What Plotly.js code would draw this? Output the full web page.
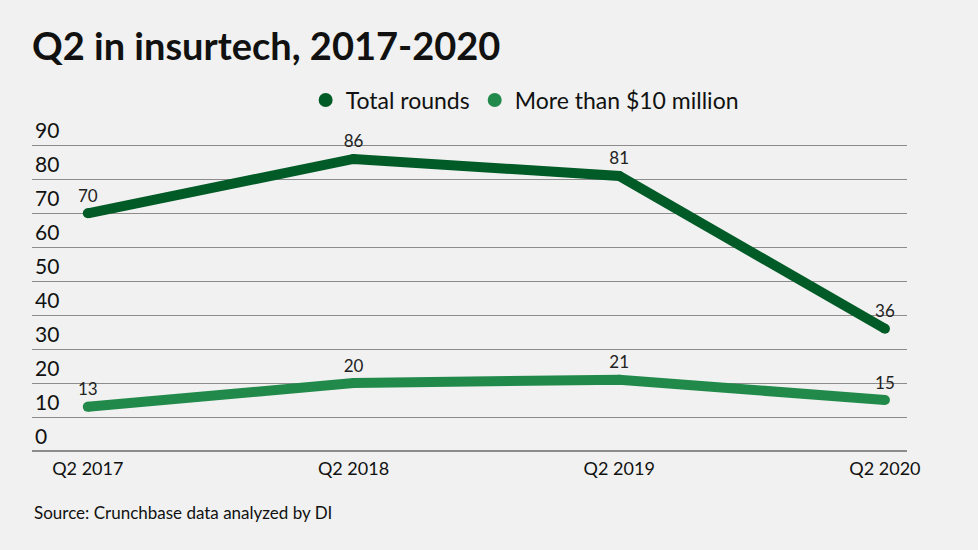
<!DOCTYPE html>
<html>
<head>
<meta charset="utf-8">
<script src="https://cdn.plot.ly/plotly-3.0.1.min.js"></script>
<style>
html,body{margin:0;padding:0;background:#f0f1f0;}
#chart{width:978px;height:550px;}
</style>
</head>
<body>
<div id="chart"></div>
<script>
const quarters = ["Q2 2017", "Q2 2018", "Q2 2019", "Q2 2020"];
const totalRounds = [70, 86, 81, 36];
const moreThan10M = [13, 20, 21, 15];
const seriesNames = ["Total rounds", "More than $10 million"];
const seriesColors = ["#005b27", "#218a4b"];
const yTicks = [0, 10, 20, 30, 40, 50, 60, 70, 80, 90];

const font = "Lato, 'Noto Sans', sans-serif";
const allSeries = [totalRounds, moreThan10M];
const traces = [];
allSeries.forEach((vals, i) => {
  traces.push({
    type: "scatter",
    mode: "lines+markers+text",
    x: quarters,
    y: vals,
    text: vals.map(String),
    textposition: "top center",
    textfont: {family: font, size: 17, color: "#222"},
    line: {color: seriesColors[i], width: 10},
    marker: {size: 10, color: seriesColors[i], line: {width: 0}},
    showlegend: false,
    hoverinfo: "x+y",
    cliponaxis: false
  });
});
allSeries.forEach((vals, i) => {
  traces.push({
    type: "scatter",
    mode: "markers",
    x: [null],
    y: [null],
    name: seriesNames[i],
    marker: {color: seriesColors[i], size: 14},
    showlegend: true
  });
});

const layout = {
  width: 978,
  height: 550,
  paper_bgcolor: "#f0f1f0",
  plot_bgcolor: "#f0f1f0",
  margin: {l: 32, r: 71, t: 121, b: 99},
  title: {
    text: "<b>Q2 in insurtech, 2017-2020</b>",
    font: {family: font, size: 38, color: "#111"},
    x: 0, xref: "paper", xanchor: "left",
    y: 1, yref: "container", yanchor: "top",
    pad: {t: 33, l: 0}
  },
  showlegend: true,
  legend: {
    orientation: "h",
    x: 0.563, xanchor: "center",
    yref: "container",
    y: 0.818, yanchor: "middle",
    font: {family: font, size: 23, color: "#111"},
    bgcolor: "rgba(0,0,0,0)",
    itemwidth: 30,
    traceorder: "normal"
  },
  xaxis: {
    type: "category",
    range: [-0.21, 3.083],
    showgrid: false,
    zeroline: false,
    showline: false,
    ticks: "",
    ticklabelstandoff: 5,
    tickfont: {family: font, size: 18, color: "#111"},
    fixedrange: true
  },
  yaxis: {
    range: [0, 97],
    tickvals: yTicks,
    ticktext: yTicks.map(String),
    ticklabelposition: "inside top",
    ticklabeloverflow: "allow",
    showgrid: true,
    gridcolor: "#8c8c8c",
    gridwidth: 1,
    zeroline: true,
    zerolinecolor: "#8c8c8c",
    zerolinewidth: 1.5,
    showline: false,
    ticks: "",
    tickfont: {family: font, size: 21, color: "#111"},
    fixedrange: true
  },
  annotations: [{
    text: "Source: Crunchbase data analyzed by DI",
    xref: "paper", yref: "paper",
    x: 0, y: -0.188,
    xanchor: "left", yanchor: "middle",
    showarrow: false,
    font: {family: font, size: 17, color: "#111"}
  }]
};

Plotly.newPlot("chart", traces, layout, {displayModeBar: false, staticPlot: true});
</script>
</body>
</html>
